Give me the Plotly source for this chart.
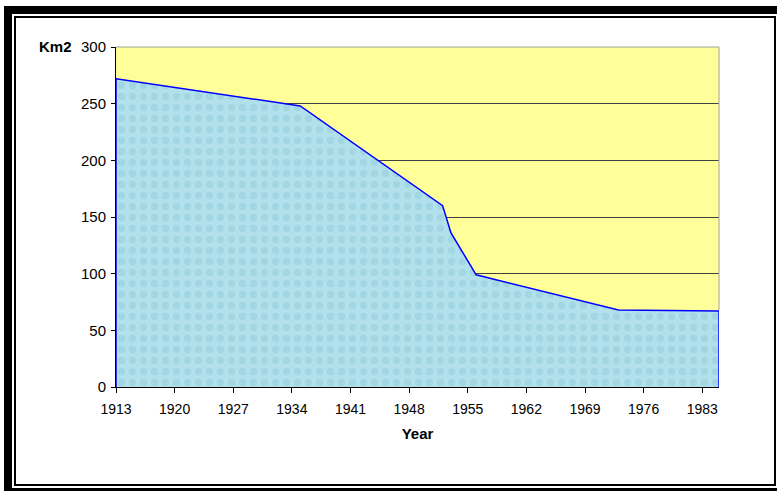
import plotly.graph_objects as go

# ---- data ----
years = [1913, 1935, 1952, 1953, 1956, 1973, 1985]
area_km2 = [272, 248, 160, 136, 99, 68, 67]
x_ticks = [1913, 1920, 1927, 1934, 1941, 1948, 1955, 1962, 1969, 1976, 1983]
y_ticks = [0, 50, 100, 150, 200, 250, 300]
x_title = "Year"
y_title = "Km2"

W, H = 777, 491
L, R, T, B = 116, 719, 47, 387   # plot area in pixels


def px(x):
    return (x - L) / (R - L)


def py(y):
    return (B - y) / (B - T)


# closed outline of the area (the Excel area border runs round the polygon)
poly_x = [years[0]] + years + [years[-1]]
poly_y = [0] + area_km2 + [0]

fig = go.Figure()
fig.add_trace(go.Scatter(
    x=poly_x, y=poly_y, mode="lines", fill="toself",
    fillcolor="#B0DFEA",
    fillpattern=dict(shape=".", fgcolor="#92CCDB", bgcolor="#B3E1EB",
                     size=11, solidity=0.35),
    line=dict(color="#0000FF", width=1.5),
    hoverinfo="skip", showlegend=False,
))

font = "Arial, Liberation Sans, sans-serif"

fig.update_layout(
    width=W, height=H,
    margin=dict(l=L, r=W - R, t=T, b=H - B, pad=0),
    paper_bgcolor="white",
    plot_bgcolor="#FFFF99",
    showlegend=False,
    font=dict(family=font, size=14, color="black"),
    xaxis=dict(
        range=[1913, 1985], tickvals=x_ticks, ticktext=[str(v) for v in x_ticks],
        showgrid=False, zeroline=False,
        showline=True, linecolor="#000000", linewidth=1,
        ticks="outside", ticklen=5, tickcolor="#000000",
        ticklabelstandoff=4,
        tickfont=dict(family=font, size=14),
        title=dict(text="<b>" + x_title + "</b>", font=dict(family=font, size=15), standoff=12),
    ),
    yaxis=dict(
        range=[0, 300], tickvals=y_ticks,
        showgrid=True, gridcolor="#404040", gridwidth=1,
        zeroline=False,
        showline=True, linecolor="#000000", linewidth=1,
        ticks="outside", ticklen=4, tickcolor="#000000",
        ticklabelstandoff=2,
        tickfont=dict(family=font, size=15),
    ),
    annotations=[dict(
        text="<b>" + y_title + "</b>", xref="paper", yref="paper",
        x=px(55), y=py(46), xanchor="center", yanchor="middle",
        showarrow=False, font=dict(family=font, size=15, color="black"),
    )],
    shapes=[
        # grey plot-area border (top/right)
        dict(type="line", xref="paper", yref="paper", x0=0, x1=1, y0=1, y1=1,
             line=dict(color="#A0A0A0", width=1), layer="above"),
        dict(type="line", xref="paper", yref="paper", x0=1, x1=1, y0=py(310), y1=1,
             line=dict(color="#A0A0A0", width=1), layer="above"),
        # thick outer frame
        dict(type="rect", xref="paper", yref="paper",
             x0=px(8), x1=px(782), y0=py(10), y1=py(492),
             line=dict(color="black", width=8), fillcolor="rgba(0,0,0,0)"),
        # thin inner frame
        dict(type="rect", xref="paper", yref="paper",
             x0=px(15), x1=px(775), y0=py(17), y1=py(485),
             line=dict(color="black", width=2), fillcolor="rgba(0,0,0,0)"),
    ],
)

fig.write_html(
    "out.html",
    config={"displayModeBar": False},
    post_script="document.body.style.margin='0px';document.body.style.overflow='hidden';",
)
